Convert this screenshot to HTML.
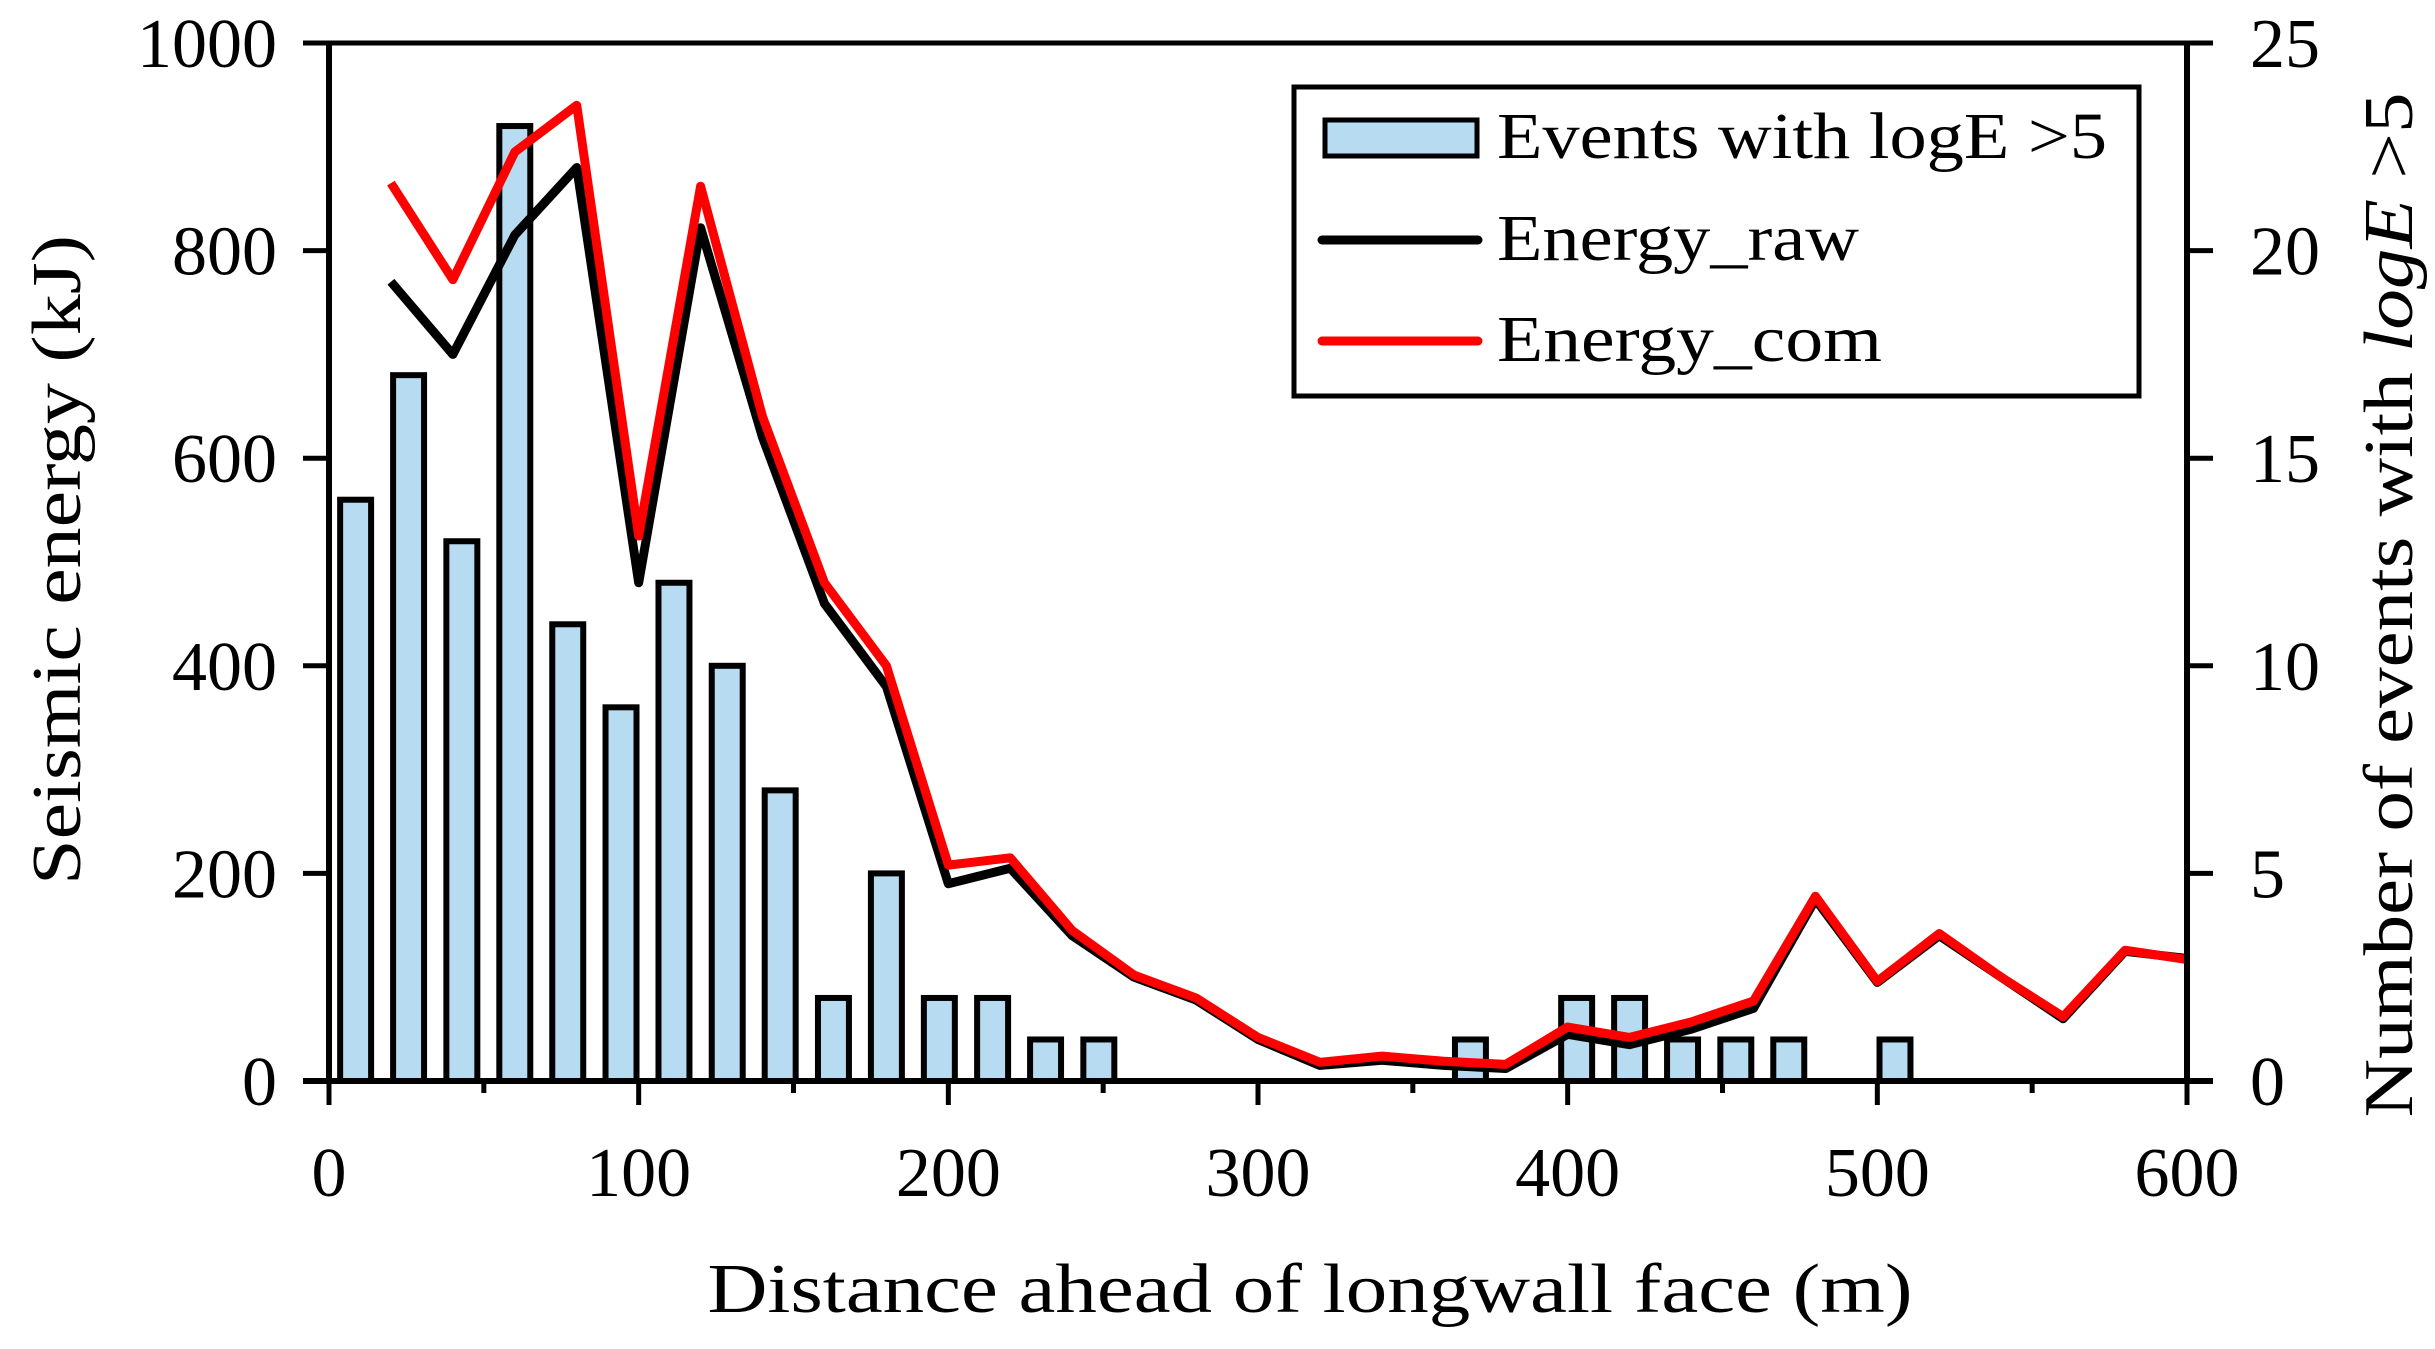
<!DOCTYPE html>
<html><head><meta charset="utf-8"><style>
html,body{margin:0;padding:0;background:#fff;}
svg{display:block;font-family:"Liberation Serif","DejaVu Serif",serif;}
</style></head><body>
<svg id="chart" width="2435" height="1349" viewBox="0 0 2435 1349" xmlns="http://www.w3.org/2000/svg">
<g id="bars"></g>
<g id="lines"></g>
<g id="axes"></g>
<g>
  <rect x="1294" y="87" width="845" height="309" fill="#fff" stroke="#000" stroke-width="5"/>
  <rect x="1325" y="120" width="152" height="36" fill="#b7dcf2" stroke="#000" stroke-width="5"/>
  <text x="1497" y="158" font-size="66" textLength="610" lengthAdjust="spacingAndGlyphs">Events with logE &gt;5</text>
  <line x1="1322" y1="240" x2="1478" y2="240" stroke="#000" stroke-width="9" stroke-linecap="round"/>
  <text x="1497" y="260" font-size="66" textLength="362" lengthAdjust="spacingAndGlyphs">Energy_raw</text>
  <line x1="1322" y1="341" x2="1478" y2="341" stroke="#f00" stroke-width="9" stroke-linecap="round"/>
  <text x="1497" y="361" font-size="66" textLength="385" lengthAdjust="spacingAndGlyphs">Energy_com</text>
</g>
<text x="1310" y="1312" font-size="70" text-anchor="middle" textLength="1205" lengthAdjust="spacingAndGlyphs">Distance ahead of longwall face (m)</text>
<text transform="translate(80,560) rotate(-90)" font-size="70" text-anchor="middle" textLength="650" lengthAdjust="spacingAndGlyphs">Seismic energy (kJ)</text>
<text transform="translate(2412,605) rotate(-90)" font-size="70" text-anchor="middle" textLength="1025" lengthAdjust="spacingAndGlyphs">Number of events with <tspan font-style="italic">logE</tspan> &gt;5</text>
</svg>
<script>
const binCenters = [8.6,25.7,42.9,60,77.1,94.3,111.4,128.6,145.7,162.9,180,197.1,214.3,231.4,248.6,368.6,402.9,420,437.1,454.3,471.4,505.7];
const eventCounts = [14,17,13,23,11,9,12,10,7,2,5,2,2,1,1,1,2,2,1,1,1,1];
const distances = [20,40,60,80,100,120,140,160,180,200,220,240,260,280,300,320,340,360,380,400,420,440,460,480,500,520,540,560,580,600];
const energyRaw = [770,700,815,880,480,822,620,460,380,190,205,140,100,78,40,15,20,15,12,45,35,50,70,175,95,140,100,60,125,118];
const energyCom = [865,772,895,940,525,862,640,480,400,208,215,145,102,80,42,18,24,19,16,52,42,57,77,178,96,142,100,62,126,117];
const xTicks = [0,100,200,300,400,500,600];
const yTicks = [0,200,400,600,800,1000];
const y2Ticks = [0,5,10,15,20,25];

const NS='http://www.w3.org/2000/svg';
const X0=329,X1=2187,Y0=1081,Y1=43;
const xs=v=>X0+(X1-X0)*v/600;
const ys=v=>Y0-(Y0-Y1)*v/1000;
const y2s=v=>Y0-(Y0-Y1)*v/25;
function mk(parent,tag,attrs){const e=document.createElementNS(NS,tag);for(const k in attrs)e.setAttribute(k,attrs[k]);parent.appendChild(e);return e;}

const bars=document.getElementById('bars');
const bw=(xs(10)-xs(0));
binCenters.forEach((c,i)=>{
  const top=y2s(eventCounts[i]);
  const r=mk(bars,'rect',{x:xs(c)-bw/2,y:top,width:bw,height:Y0-top,fill:'#b7dcf2',stroke:'#000','stroke-width':6});
  
  
});

const lines=document.getElementById('lines');
function poly(vals,color,name){
  const p=mk(lines,'polyline',{points:vals.map((v,i)=>xs(distances[i])+','+ys(v)).join(' '),fill:'none',stroke:color,'stroke-width':9,'stroke-linejoin':'round'});
  
  
}
poly(energyRaw,'#000','energy-raw-line');
poly(energyCom,'#f00','energy-com-line');

const ax=document.getElementById('axes');
mk(ax,'line',{x1:X0,y1:Y1,x2:X0,y2:Y0+3,stroke:'#000','stroke-width':6});
mk(ax,'line',{x1:X1,y1:Y1,x2:X1,y2:Y0+3,stroke:'#000','stroke-width':6});
mk(ax,'line',{x1:X0-26,y1:Y1,x2:X1+26,y2:Y1,stroke:'#000','stroke-width':5});
mk(ax,'line',{x1:X0-26,y1:Y0,x2:X1+26,y2:Y0,stroke:'#000','stroke-width':6});
yTicks.forEach(v=>{
  mk(ax,'line',{x1:X0-26,y1:ys(v),x2:X0,y2:ys(v),stroke:'#000','stroke-width':5});
  const t=mk(ax,'text',{x:277,y:ys(v)+24,'font-size':70,'text-anchor':'end'});
  t.textContent=v;
  
  
});
y2Ticks.forEach(v=>{
  mk(ax,'line',{x1:X1,y1:y2s(v),x2:X1+26,y2:y2s(v),stroke:'#000','stroke-width':5});
  const t=mk(ax,'text',{x:2250,y:y2s(v)+24,'font-size':70,'text-anchor':'start'});
  t.textContent=v;
  
  
});
for(let v=0;v<=600;v+=50){
  mk(ax,'line',{x1:xs(v),y1:Y0,x2:xs(v),y2:Y0+(v%100===0?24:12),stroke:'#000','stroke-width':5});
}
xTicks.forEach(v=>{
  const t=mk(ax,'text',{x:xs(v),y:1196,'font-size':70,'text-anchor':'middle'});
  t.textContent=v;
  
  
});
</script>
</body></html>
